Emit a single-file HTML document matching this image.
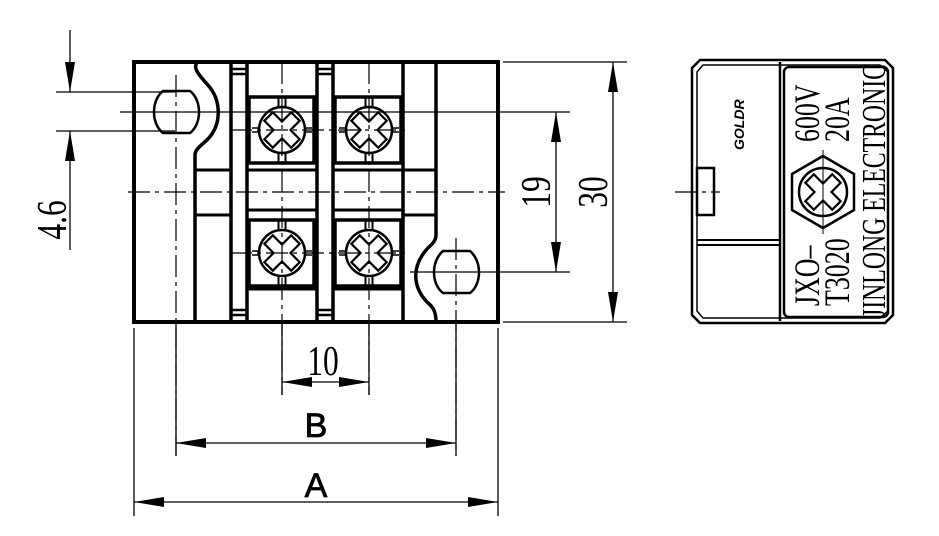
<!DOCTYPE html>
<html><head><meta charset="utf-8"><style>html,body{margin:0;padding:0;background:#fff}svg{display:block}</style></head>
<body>
<svg width="939" height="536" viewBox="0 0 939 536" xmlns="http://www.w3.org/2000/svg">
<defs>
<g id="scr">
  <circle r="23" fill="#fff" stroke="#000" stroke-width="2.5"/>
  <g transform="rotate(45)" fill="none" stroke="#000" stroke-width="2.2">
    <path d="M-19,-6 H-6 V-19 H6 V-6 H19 V6 H6 V19 H-6 V6 H-19 Z"/>
  </g>
  <rect x="-3.5" y="-33" width="7" height="10" fill="none" stroke="#000" stroke-width="2"/>
  <rect x="-3.5" y="23" width="7" height="10" fill="none" stroke="#000" stroke-width="2"/>
  <path d="M-30,-2 H-23 M-30,2 H-23 M23,-2 H30 M23,2 H30" stroke="#000" stroke-width="1.5"/>
</g>
</defs>
<g fill="none" stroke="#000">
<rect x="134" y="62" width="364" height="260" stroke-width="4"/>
<path d="M197,62 C193,68 198,74 207,84 C222,100 222,125 207,140 C199,147 195,150 195,155 V322" stroke-width="3.5"/>
<path d="M436,62 V235 C436,241 432,244 427,249 C412,266 412,286 427,302 C433,307 436,311 436,322" stroke-width="3.5"/>
<path d="M195,170 H230 M195,215 H230 M403,170 H436 M403,215 H436" stroke-width="3"/>
<path d="M231,62 V322 M247,62 V322 M317,62 V322 M333,62 V322 M403,62 V322" stroke-width="3.5"/>
<path d="M231,69 H247 M231,74 H247 M231,310 H247 M231,315 H247 M317,69 H333 M317,74 H333 M317,310 H333 M317,315 H333" stroke-width="2.5"/>
<rect x="249" y="97" width="65" height="66" stroke-width="3.5"/>
<rect x="335" y="97" width="66" height="66" stroke-width="3.5"/>
<rect x="249" y="220" width="65" height="66" stroke-width="3.5"/>
<rect x="335" y="220" width="66" height="66" stroke-width="3.5"/>
<path d="M247,170 H317 M333,170 H403 M247,210 H317 M333,210 H403 M247,289 H317 M333,289 H403" stroke-width="3"/>
<path d="M163,91 H190 C202,100 202,124 190,133 H163 C151,124 151,100 163,91 Z" stroke-width="2.5"/>
<path d="M443,251 H470 C482,261 482,284 470,293 H443 C431,284 431,261 443,251 Z" stroke-width="2.5"/>
</g>
<use href="#scr" x="282" y="130"/>
<use href="#scr" x="369" y="130"/>
<use href="#scr" x="282" y="253"/>
<use href="#scr" x="369" y="253"/>
<g stroke="#000" stroke-width="1.2" fill="none" stroke-dasharray="22,5,4,5">
<path d="M128,192 H505"/>
<path d="M176,75 V455"/>
<path d="M282,62 V395"/>
<path d="M369,62 V395"/>
<path d="M456,238 V456"/>
<path d="M230,130 H410"/>
<path d="M230,253 H410"/>
<path d="M675,192 H720"/>
</g>
<g stroke="#000" stroke-width="1.3" fill="none">
<path d="M56,92 H175 M56,131 H175 M120,112 H570 M410,272 H570"/>
<path d="M70,30 V92 M70,131 V250"/>
<path d="M503,62 H627 M503,322 H627 M613,62 V322 M556,112 V272"/>
<path d="M134,328 V516 M498,328 V516 M176,322 V456 M282,322 V395 M369,322 V395 M456,322 V456"/>
<path d="M282,382 H369 M176,443 H456 M134,502 H498"/>
</g>
<g fill="#000">
<path d="M65,62 L75,62 L70,92 Z M65,161 L75,161 L70,131 Z"/>
<path d="M551,142 L561,142 L556,112 Z M551,242 L561,242 L556,272 Z"/>
<path d="M608,92 L618,92 L613,62 Z M608,292 L618,292 L613,322 Z"/>
<path d="M282,382 L312,377 L312,387 Z M369,382 L339,377 L339,387 Z"/>
<path d="M176,443 L206,438 L206,448 Z M456,443 L426,438 L426,448 Z"/>
<path d="M134,502 L164,497 L164,507 Z M498,502 L468,497 L468,507 Z"/>
</g>
<g font-family="Liberation Serif, serif" font-size="42" fill="#000">
<text transform="translate(66,220) rotate(-90) scale(0.75,1)" text-anchor="middle">4.6</text>
<text transform="translate(550,192) rotate(-90) scale(0.75,1)" text-anchor="middle">19</text>
<text transform="translate(607,192) rotate(-90) scale(0.75,1)" text-anchor="middle">30</text>
<text transform="translate(323,375) scale(0.75,1)" text-anchor="middle">10</text>
</g>
<g font-family="Liberation Sans, sans-serif" font-size="34" fill="#000" text-anchor="middle" stroke="#000" stroke-width="0.8">
<text x="316" y="437">B</text>
<text x="316" y="497">A</text>
</g>
<g fill="none" stroke="#000">
<path d="M700,60 H885 L893,68 V315 L885,323 H700 L692,315 V68 Z" stroke-width="2.5"/>
<path d="M703,65 H880 L888,72 V311 L880,318 H703 L697,311 V72 Z" stroke-width="1.5"/>
<path d="M780,62 V321" stroke-width="2.5"/>
<rect x="784" y="67" width="104" height="250" rx="5" stroke-width="2.5"/>
<path d="M697,240 H780 M697,245 H780" stroke-width="2"/>
<rect x="697" y="168" width="17" height="47" stroke-width="2.5"/>
<path d="M823,156 L854,174 L854,210 L823,228 L792,210 L792,174 Z" stroke-width="2.5"/>
<circle cx="823" cy="192" r="24" stroke-width="2.5"/>
<g transform="translate(823,192) rotate(45)" stroke-width="2.2">
<path d="M-19,-6 H-6 V-19 H6 V-6 H19 V6 H6 V19 H-6 V6 H-19 Z"/>
</g>
<path d="M823,150 V234" stroke-width="1"/>
</g>
<g font-family="Liberation Serif, serif" font-size="36" fill="#000">
<text transform="translate(819,142) rotate(-90) scale(0.72,1)">600V</text>
<text transform="translate(849,142) rotate(-90) scale(0.72,1)">20A</text>
<text transform="translate(819,306) rotate(-90) scale(0.72,1)">JXO–</text>
<text transform="translate(849,306) rotate(-90) scale(0.72,1)">T3020</text>
<text transform="translate(885,318) rotate(-90)" font-size="34" textLength="254" lengthAdjust="spacingAndGlyphs">JINLONG ELECTRONIC</text>
<text transform="translate(744,150) rotate(-90)" font-family="Liberation Sans, sans-serif" font-size="14" font-weight="bold" font-style="italic">GOLDR</text>
</g>
</svg>
</body></html>
